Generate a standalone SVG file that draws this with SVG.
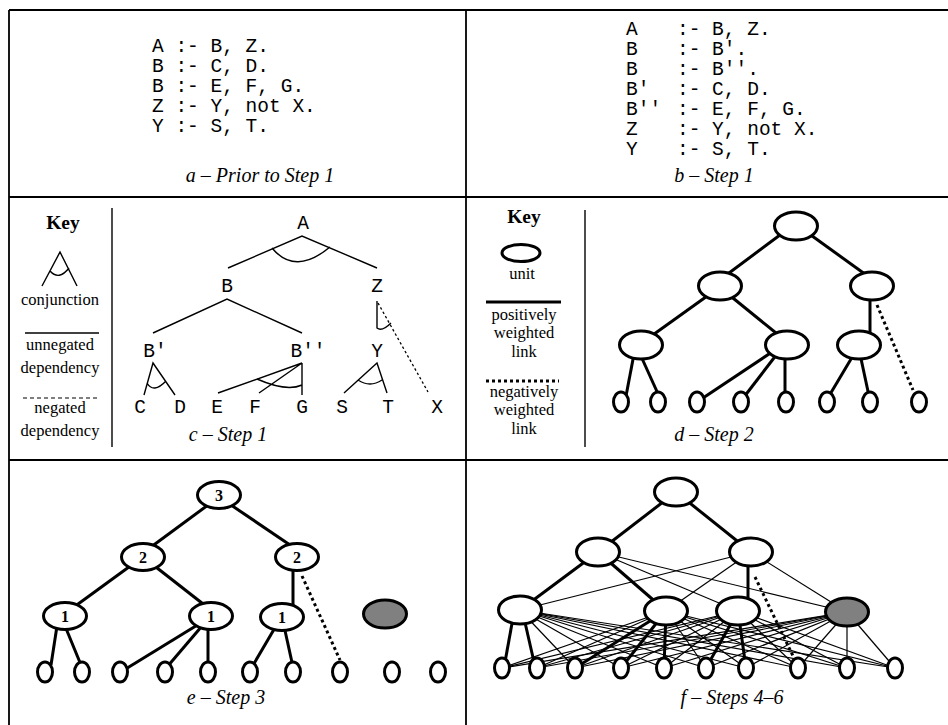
<svg xmlns="http://www.w3.org/2000/svg" width="948" height="725" viewBox="0 0 948 725">
<style>
.fr{stroke:#000;stroke-width:1.8;fill:none}
.mono{font-family:"Liberation Mono","DejaVu Sans Mono",monospace;font-size:19.5px;fill:#000}
.mc{text-anchor:middle}
.cap{font-family:"Liberation Serif",serif;font-style:italic;font-size:20px;text-anchor:middle;fill:#000}
.key{font-family:"Liberation Serif",serif;font-size:16.5px;text-anchor:middle;fill:#000}
.keyh{font-family:"Liberation Serif",serif;font-size:19.5px;font-weight:bold;text-anchor:middle;fill:#000}
.num{font-family:"Liberation Serif",serif;font-size:16px;font-weight:bold;text-anchor:middle;fill:#000}
.ln{stroke:#000;stroke-width:1.4;fill:none}
.thin{stroke:#000;stroke-width:1.2;fill:none}
.thick{stroke:#000;stroke-width:3;fill:none}
.dot{stroke:#000;stroke-width:3;stroke-dasharray:3 3;fill:none}
.dash{stroke:#000;stroke-width:1.2;stroke-dasharray:4 3;fill:none}
.fdot{stroke:#000;stroke-width:1.3;stroke-dasharray:2.5 2.5;fill:none}
.u{fill:#fff;stroke:#000;stroke-width:3}
.g{fill:#808080;stroke:#000;stroke-width:3}
</style>
<rect width="948" height="725" fill="#fff"/>
<g id="frame">
<path class="fr" d="M9,10 H948 M9,10 V725 M466,10 V725 M9,197 H948 M9,460 H948"/>
</g>

<!-- Panel a -->
<g id="panel-a">
<text class="mono" x="152" y="52" xml:space="preserve">A :- B, Z.</text>
<text class="mono" x="152" y="72" xml:space="preserve">B :- C, D.</text>
<text class="mono" x="152" y="92" xml:space="preserve">B :- E, F, G.</text>
<text class="mono" x="152" y="112" xml:space="preserve">Z :- Y, not X.</text>
<text class="mono" x="152" y="132" xml:space="preserve">Y :- S, T.</text>
<text class="cap" x="260" y="182">a – Prior to Step 1</text>
</g>

<!-- Panel b -->
<g id="panel-b">
<text class="mono" y="35"><tspan x="626">A</tspan><tspan x="677">:- B, Z.</tspan></text>
<text class="mono" y="55"><tspan x="626">B</tspan><tspan x="677">:- B′.</tspan></text>
<text class="mono" y="75"><tspan x="626">B</tspan><tspan x="677">:- B′′.</tspan></text>
<text class="mono" y="95"><tspan x="626">B′</tspan><tspan x="677">:- C, D.</tspan></text>
<text class="mono" y="115"><tspan x="626">B′′</tspan><tspan x="677">:- E, F, G.</tspan></text>
<text class="mono" y="135"><tspan x="626">Z</tspan><tspan x="677">:- Y, not X.</tspan></text>
<text class="mono" y="155"><tspan x="626">Y</tspan><tspan x="677">:- S, T.</tspan></text>
<text class="cap" x="714" y="182">b – Step 1</text>
</g>

<!-- Panel c key -->
<g id="key-c">
<text class="keyh" x="63" y="229">Key</text>
<path class="ln" d="M42,286 L60,252 L77,286 M50,271 Q59,281 69,268"/>
<text class="key" x="60" y="305">conjunction</text>
<line class="ln" x1="25" y1="333" x2="99" y2="333"/>
<text class="key" x="60" y="350">unnegated</text>
<text class="key" x="60" y="373">dependency</text>
<line class="dash" x1="23" y1="398" x2="97" y2="398"/>
<text class="key" x="60" y="413">negated</text>
<text class="key" x="60" y="436">dependency</text>
<line class="ln" x1="112" y1="208" x2="112" y2="447"/>
</g>

<!-- Panel c tree -->
<g id="c-connectors">
<path class="ln" d="M228,268 L302,236 L377,268 M272,248 Q295,276 330,247"/>
<path class="ln" d="M153,333 L227,299 L302,333"/>
<path class="ln" d="M377,301 L377,328 Q382,332 391,323"/>
<line class="fdot" x1="378" y1="303" x2="428" y2="392"/>
<path class="ln" d="M144,395 L153,363 L175,395 M147,383 Q153.5,394 166,381"/>
<path class="ln" d="M218,393 L302,363 L259,393 M302,363 L302,395 M257,379 Q286.5,392 302,385"/>
<path class="ln" d="M344,393 L377,363 L387,393 M358,380 Q370,388 382,380"/>
</g>
<g id="c-A"><text class="mono mc" x="303" y="229">A</text></g>
<g id="c-B"><text class="mono mc" x="227" y="292">B</text></g>
<g id="c-Z"><text class="mono mc" x="377" y="292">Z</text></g>
<g id="c-B1"><text class="mono mc" x="155" y="357">B′</text></g>
<g id="c-B2"><text class="mono mc" x="308" y="357">B′′</text></g>
<g id="c-Y"><text class="mono mc" x="377" y="357">Y</text></g>
<g id="c-C"><text class="mono mc" x="140" y="413">C</text></g>
<g id="c-D"><text class="mono mc" x="180" y="413">D</text></g>
<g id="c-E"><text class="mono mc" x="217" y="413">E</text></g>
<g id="c-F"><text class="mono mc" x="255" y="413">F</text></g>
<g id="c-G"><text class="mono mc" x="302" y="413">G</text></g>
<g id="c-S"><text class="mono mc" x="342" y="413">S</text></g>
<g id="c-T"><text class="mono mc" x="388" y="413">T</text></g>
<g id="c-X"><text class="mono mc" x="437" y="413">X</text></g>
<text class="cap" x="228" y="441">c – Step 1</text>

<!-- Panel d key -->
<g id="key-d">
<text class="keyh" x="524" y="223">Key</text>
<ellipse cx="521" cy="253" rx="19" ry="8.5" fill="none" stroke="#000" stroke-width="3"/>
<text class="key" x="522" y="279">unit</text>
<line class="thick" x1="486" y1="302" x2="561" y2="302"/>
<text class="key" x="524" y="320">positively</text>
<text class="key" x="524" y="338">weighted</text>
<text class="key" x="524" y="357">link</text>
<line class="dot" x1="486" y1="381" x2="559" y2="381"/>
<text class="key" x="524" y="397">negatively</text>
<text class="key" x="524" y="415">weighted</text>
<text class="key" x="524" y="434">link</text>
<line class="ln" x1="585" y1="210" x2="585" y2="447"/>
</g>

<!-- Panel d tree -->
<g id="d-connectors">
<line class="thick" x1="784" y1="232" x2="725" y2="276"/>
<line class="thick" x1="808" y1="233" x2="869" y2="277"/>
<line class="thick" x1="710" y1="294" x2="650" y2="337"/>
<line class="thick" x1="728" y1="294" x2="781" y2="337"/>
<line class="thick" x1="870" y1="295" x2="870" y2="337"/>
<line class="dot" x1="877" y1="305" x2="913" y2="390"/>
<line class="thick" x1="634" y1="354" x2="626" y2="396"/>
<line class="thick" x1="640" y1="354" x2="659" y2="396"/>
<line class="thick" x1="772" y1="352" x2="700" y2="400"/>
<line class="thick" x1="777" y1="354" x2="744" y2="397"/>
<line class="thick" x1="785" y1="354" x2="785" y2="396"/>
<line class="thick" x1="854" y1="354" x2="829" y2="396"/>
<line class="thick" x1="860" y1="354" x2="869" y2="396"/>
</g>
<g id="d-root"><ellipse class="u" cx="796" cy="226" rx="21.5" ry="14"/></g>
<g id="d-l2a"><ellipse class="u" cx="720" cy="286" rx="21.5" ry="14"/></g>
<g id="d-l2b"><ellipse class="u" cx="872" cy="286" rx="21.5" ry="14"/></g>
<g id="d-l3a"><ellipse class="u" cx="641" cy="345" rx="21.5" ry="14"/></g>
<g id="d-l3b"><ellipse class="u" cx="787" cy="345" rx="21.5" ry="14"/></g>
<g id="d-l3c"><ellipse class="u" cx="859" cy="345" rx="21.5" ry="14"/></g>
<g id="d-leaf1"><ellipse class="u" cx="621" cy="402" rx="7.5" ry="10"/></g>
<g id="d-leaf2"><ellipse class="u" cx="658" cy="402" rx="7.5" ry="10"/></g>
<g id="d-leaf3"><ellipse class="u" cx="697" cy="402" rx="7.5" ry="10"/></g>
<g id="d-leaf4"><ellipse class="u" cx="741" cy="402" rx="7.5" ry="10"/></g>
<g id="d-leaf5"><ellipse class="u" cx="786" cy="402" rx="7.5" ry="10"/></g>
<g id="d-leaf6"><ellipse class="u" cx="827" cy="402" rx="7.5" ry="10"/></g>
<g id="d-leaf7"><ellipse class="u" cx="870" cy="402" rx="7.5" ry="10"/></g>
<g id="d-leaf8"><ellipse class="u" cx="919" cy="402" rx="7.5" ry="10"/></g>
<text class="cap" x="714" y="441">d – Step 2</text>

<!-- Panel e -->
<g id="e-connectors">
<line class="thick" x1="208" y1="505" x2="151" y2="547"/>
<line class="thick" x1="231" y1="505" x2="293" y2="547"/>
<line class="thick" x1="133" y1="564" x2="74" y2="607"/>
<line class="thick" x1="152" y1="564" x2="207" y2="607"/>
<line class="thick" x1="293" y1="565" x2="293" y2="609"/>
<line class="dot" x1="302" y1="576" x2="340" y2="660"/>
<line class="thick" x1="57" y1="626" x2="51" y2="665"/>
<line class="thick" x1="65" y1="626" x2="81" y2="665"/>
<line class="thick" x1="199" y1="624" x2="124" y2="670"/>
<line class="thick" x1="202" y1="626" x2="167" y2="667"/>
<line class="thick" x1="208" y1="626" x2="208" y2="666"/>
<line class="thick" x1="276" y1="626" x2="252" y2="667"/>
<line class="thick" x1="284" y1="626" x2="293" y2="667"/>
</g>
<g id="e-root"><ellipse class="u" cx="219" cy="495" rx="21.5" ry="13.5"/><text class="num" x="219" y="500.5">3</text></g>
<g id="e-l2a"><ellipse class="u" cx="143" cy="557" rx="21.5" ry="13.5"/><text class="num" x="143" y="562.5">2</text></g>
<g id="e-l2b"><ellipse class="u" cx="297" cy="557" rx="21.5" ry="13.5"/><text class="num" x="297" y="562.5">2</text></g>
<g id="e-l3a"><ellipse class="u" cx="65" cy="616" rx="21.5" ry="13.5"/><text class="num" x="65" y="621.5">1</text></g>
<g id="e-l3b"><ellipse class="u" cx="211" cy="616" rx="21.5" ry="13.5"/><text class="num" x="211" y="621.5">1</text></g>
<g id="e-l3c"><ellipse class="u" cx="282" cy="617" rx="21.5" ry="13.5"/><text class="num" x="282" y="622.5">1</text></g>
<g id="e-new"><ellipse class="g" cx="385" cy="614" rx="21.5" ry="14"/></g>
<g id="e-leaf1"><ellipse class="u" cx="45" cy="672" rx="7.5" ry="10"/></g>
<g id="e-leaf2"><ellipse class="u" cx="82" cy="672" rx="7.5" ry="10"/></g>
<g id="e-leaf3"><ellipse class="u" cx="120" cy="672" rx="7.5" ry="10"/></g>
<g id="e-leaf4"><ellipse class="u" cx="165" cy="672" rx="7.5" ry="10"/></g>
<g id="e-leaf5"><ellipse class="u" cx="208" cy="672" rx="7.5" ry="10"/></g>
<g id="e-leaf6"><ellipse class="u" cx="250" cy="672" rx="7.5" ry="10"/></g>
<g id="e-leaf7"><ellipse class="u" cx="293" cy="672" rx="7.5" ry="10"/></g>
<g id="e-leaf8"><ellipse class="u" cx="340" cy="672" rx="7.5" ry="10"/></g>
<g id="e-leaf9"><ellipse class="u" cx="392" cy="672" rx="7.5" ry="10"/></g>
<g id="e-leaf10"><ellipse class="u" cx="438" cy="672" rx="7.5" ry="10"/></g>
<text class="cap" x="226" y="704">e – Step 3</text>

<!-- Panel f -->
<g id="f-connectors">
<line class="thin" x1="598" y1="552" x2="738" y2="611"/>
<line class="thin" x1="598" y1="552" x2="847" y2="612"/>
<line class="thin" x1="751" y1="552" x2="520" y2="610"/>
<line class="thin" x1="751" y1="552" x2="666" y2="611"/>
<line class="thin" x1="751" y1="552" x2="847" y2="612"/>
<g class="thin">
<line x1="520" y1="610" x2="575" y2="668"/><line x1="520" y1="610" x2="621" y2="668"/><line x1="520" y1="610" x2="664" y2="668"/><line x1="520" y1="610" x2="706" y2="668"/><line x1="520" y1="610" x2="746" y2="668"/><line x1="520" y1="610" x2="798" y2="668"/><line x1="520" y1="610" x2="847" y2="668"/><line x1="520" y1="610" x2="895" y2="668"/>
<line x1="666" y1="611" x2="502" y2="668"/><line x1="666" y1="611" x2="537" y2="668"/><line x1="666" y1="611" x2="706" y2="668"/><line x1="666" y1="611" x2="746" y2="668"/><line x1="666" y1="611" x2="798" y2="668"/><line x1="666" y1="611" x2="847" y2="668"/><line x1="666" y1="611" x2="895" y2="668"/>
<line x1="738" y1="611" x2="502" y2="668"/><line x1="738" y1="611" x2="537" y2="668"/><line x1="738" y1="611" x2="575" y2="668"/><line x1="738" y1="611" x2="621" y2="668"/><line x1="738" y1="611" x2="664" y2="668"/><line x1="738" y1="611" x2="798" y2="668"/><line x1="738" y1="611" x2="847" y2="668"/><line x1="738" y1="611" x2="895" y2="668"/>
<line x1="847" y1="612" x2="502" y2="668"/><line x1="847" y1="612" x2="537" y2="668"/><line x1="847" y1="612" x2="575" y2="668"/><line x1="847" y1="612" x2="621" y2="668"/><line x1="847" y1="612" x2="664" y2="668"/><line x1="847" y1="612" x2="706" y2="668"/><line x1="847" y1="612" x2="746" y2="668"/><line x1="847" y1="612" x2="798" y2="668"/><line x1="847" y1="612" x2="847" y2="668"/><line x1="847" y1="612" x2="895" y2="668"/>
</g>
<line class="thick" x1="676" y1="492" x2="598" y2="552"/>
<line class="thick" x1="676" y1="492" x2="751" y2="552"/>
<line class="thick" x1="598" y1="552" x2="520" y2="610"/>
<line class="thick" x1="598" y1="552" x2="666" y2="611"/>
<line class="thick" x1="748" y1="560" x2="748" y2="605"/>
<line class="dot" x1="755" y1="577" x2="793" y2="656"/>
<line class="thick" x1="513" y1="618" x2="505" y2="662"/>
<line class="thick" x1="524" y1="618" x2="534" y2="662"/>
<line class="thick" x1="666" y1="611" x2="575" y2="668"/>
<line class="thick" x1="666" y1="611" x2="621" y2="668"/>
<line class="thick" x1="666" y1="611" x2="664" y2="668"/>
<line class="thick" x1="738" y1="611" x2="706" y2="668"/>
<line class="thick" x1="738" y1="611" x2="746" y2="668"/>
</g>
<g id="f-root"><ellipse class="u" cx="676" cy="492" rx="21.5" ry="14"/></g>
<g id="f-l2a"><ellipse class="u" cx="598" cy="552" rx="21.5" ry="14"/></g>
<g id="f-l2b"><ellipse class="u" cx="751" cy="552" rx="21.5" ry="14"/></g>
<g id="f-l3a"><ellipse class="u" cx="520" cy="610" rx="21.5" ry="14"/></g>
<g id="f-l3b"><ellipse class="u" cx="666" cy="611" rx="21.5" ry="14"/></g>
<g id="f-l3c"><ellipse class="u" cx="738" cy="611" rx="21.5" ry="14"/></g>
<g id="f-new"><ellipse class="g" cx="847" cy="612" rx="21.5" ry="14"/></g>
<g id="f-leaf1"><ellipse class="u" cx="502" cy="668" rx="7.5" ry="10"/></g>
<g id="f-leaf2"><ellipse class="u" cx="537" cy="668" rx="7.5" ry="10"/></g>
<g id="f-leaf3"><ellipse class="u" cx="575" cy="668" rx="7.5" ry="10"/></g>
<g id="f-leaf4"><ellipse class="u" cx="621" cy="668" rx="7.5" ry="10"/></g>
<g id="f-leaf5"><ellipse class="u" cx="664" cy="668" rx="7.5" ry="10"/></g>
<g id="f-leaf6"><ellipse class="u" cx="706" cy="668" rx="7.5" ry="10"/></g>
<g id="f-leaf7"><ellipse class="u" cx="746" cy="668" rx="7.5" ry="10"/></g>
<g id="f-leaf8"><ellipse class="u" cx="798" cy="668" rx="7.5" ry="10"/></g>
<g id="f-leaf9"><ellipse class="u" cx="847" cy="668" rx="7.5" ry="10"/></g>
<g id="f-leaf10"><ellipse class="u" cx="895" cy="668" rx="7.5" ry="10"/></g>
<text class="cap" x="732" y="704">f – Steps 4–6</text>
</svg>
